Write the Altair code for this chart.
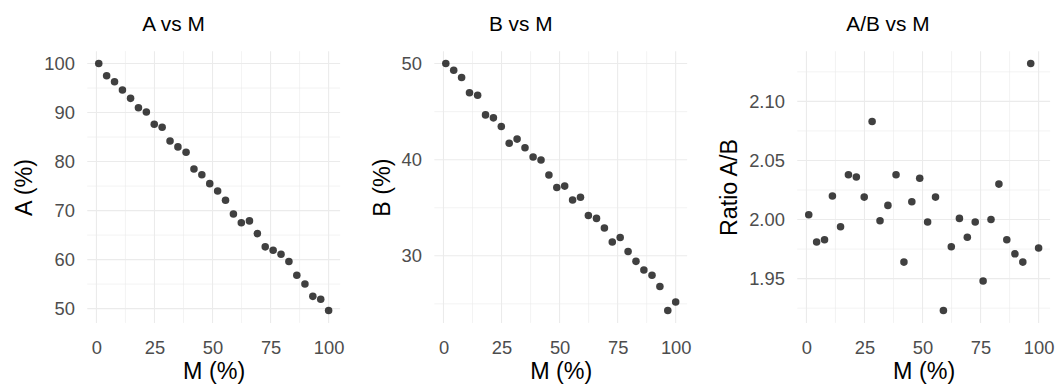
import altair as alt
import pandas as pd

# Measurements: M (%), A (%), B (%) and the ratio A/B
m_pct = [1.0, 4.4, 7.8, 11.2, 14.7, 18.1, 21.5, 24.9, 28.3, 31.7,
         35.1, 38.6, 42.0, 45.4, 48.8, 52.2, 55.6, 59.0, 62.4, 65.9,
         69.3, 72.7, 76.1, 79.5, 82.9, 86.3, 89.8, 93.2, 96.6, 100.0]
a_pct = [100.0, 97.5, 96.3, 94.6, 92.9, 91.0, 90.1, 87.6, 87.0, 84.2,
         83.0, 81.9, 78.5, 77.3, 75.5, 74.0, 72.1, 69.3, 67.5, 67.9,
         65.3, 62.6, 61.9, 61.1, 59.6, 56.8, 55.0, 52.5, 51.9, 49.6]
b_pct = [50.0, 49.3, 48.55, 46.97, 46.7, 44.66, 44.35, 43.45, 41.7, 42.14,
         41.25, 40.28, 39.97, 38.4, 37.1, 37.25, 35.81, 36.08, 34.2, 33.89,
         32.89, 31.44, 31.9, 30.45, 29.42, 28.53, 27.98, 26.8, 24.3, 25.2]
ratio_ab = [2.004, 1.981, 1.983, 2.020, 1.994, 2.038, 2.036, 2.019, 2.083, 1.999,
            2.012, 2.038, 1.964, 2.015, 2.035, 1.998, 2.019, 1.923, 1.977, 2.001,
            1.985, 1.998, 1.948, 2.000, 2.030, 1.983, 1.971, 1.964, 2.132, 1.976]

# Axis breaks (major ticks) and minor grid positions
x_major = [0, 25, 50, 75, 100]
x_minor = [12.5, 37.5, 62.5, 87.5]
a_major = [50, 60, 70, 80, 90, 100]
a_minor = [55, 65, 75, 85, 95]
b_major = [30, 40, 50]
b_minor = [25, 35, 45]
r_major = [1.95, 2.00, 2.05, 2.10]
r_minor = [1.925, 1.975, 2.025, 2.075, 2.125]

df = pd.DataFrame({"M": m_pct, "A": a_pct, "B": b_pct, "R": ratio_ab})

FONT = "Liberation Sans"
GRID = "#EBEBEB"
PANEL_W, PANEL_H = 255, 274


def padded(lo, hi, frac=0.05):
    span = hi - lo
    return [lo - span * frac, hi + span * frac]


x_dom = padded(min(m_pct), max(m_pct))


def panel(col, y_title, title, y_major, y_minor, y_fmt, title_dx):
    y_dom = padded(df[col].min(), df[col].max())
    xs = alt.Scale(domain=x_dom, nice=False, zero=False)
    ys = alt.Scale(domain=y_dom, nice=False, zero=False)
    x_axis = alt.Axis(values=x_major, format="d")
    y_axis = alt.Axis(values=y_major, format=y_fmt)

    def vgrid(vals, w):
        return alt.Chart(pd.DataFrame({"v": vals})).mark_rule(
            color=GRID, strokeWidth=w
        ).encode(x=alt.X("v:Q", scale=xs, axis=x_axis, title="M (%)"))

    def hgrid(vals, w):
        return alt.Chart(pd.DataFrame({"v": vals})).mark_rule(
            color=GRID, strokeWidth=w
        ).encode(y=alt.Y("v:Q", scale=ys, axis=y_axis, title=y_title))

    pts = alt.Chart(df).mark_circle(size=58, color="black", opacity=0.75).encode(
        x=alt.X("M:Q", scale=xs, axis=x_axis, title="M (%)"),
        y=alt.Y(f"{col}:Q", scale=ys, axis=y_axis, title=y_title),
    )
    return alt.layer(
        vgrid(x_minor, 0.6), hgrid(y_minor, 0.6),
        vgrid(x_major, 1.1), hgrid(y_major, 1.1),
        pts,
    ).properties(width=PANEL_W, height=PANEL_H,
                 title=alt.TitleParams(title, anchor="middle", frame="bounds",
                                       dx=title_dx))


chart = alt.hconcat(
    panel("A", "A (%)", "A vs M", a_major, a_minor, "d", -5),
    panel("B", "B (%)", "B vs M", b_major, b_minor, "d", -10),
    panel("R", "Ratio A/B", "A/B vs M", r_major, r_minor, ".2f", 2),
    spacing=26,
).properties(
    padding={"left": 13, "top": 12, "right": 8, "bottom": 4},
    background="white",
).configure_view(
    strokeWidth=0
).configure_axis(
    grid=False, domain=False, ticks=False, tickSize=0,
    labelFont=FONT, labelFontSize=18.5, labelColor="#4D4D4D",
    titleFont=FONT, titleFontSize=23.5, titleFontWeight="normal", titleColor="black",
).configure_axisX(
    labelPadding=16, titlePadding=3,
).configure_axisY(
    labelPadding=13, titlePadding=7,
).configure_title(
    font=FONT, fontSize=21, fontWeight="normal", color="black", offset=16,
)

chart.save("out.html", embed_options={"renderer": "svg", "actions": False})
